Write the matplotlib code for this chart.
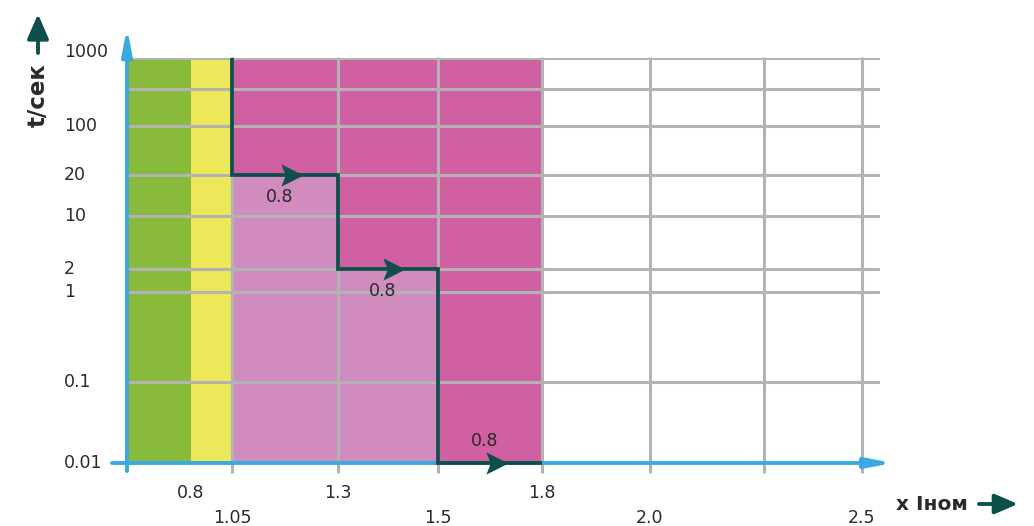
import numpy as np
import matplotlib
matplotlib.use("Agg")
import matplotlib.pyplot as plt
from matplotlib import transforms
from matplotlib.path import Path
from matplotlib.patches import FancyArrowPatch

plt.rcParams['font.family'] = ['DejaVu Sans']

# ---- data ----
x_ticks = [0.8, 1.05, 1.3, 1.5, 1.8, 2.0, 2.5]
x_tick_labels = ['0.8', '1.05', '1.3', '1.5', '1.8', '2.0', '2.5']
x_grid = [1.05, 1.3, 1.5, 1.8, 2.0, 2.2, 2.5]
y_grid = [0.01, 0.1, 1, 2, 10, 20, 100, 350, 1000]
y_tick_labels = ['0.01', '0.1', '1', '2', '10', '20', '100', '', '1000']
zone_green = (0.6, 0.8)
zone_yellow = (0.8, 1.05)
zone_magenta = (1.05, 1.8)
step_x = [1.05, 1.3, 1.5, 1.8]       # step boundaries
step_t = [20, 2, 0.01]                # time level for each step
step_label = ['0.8', '0.8', '0.8']
t_top = 1000

# ---- colours ----
GREEN = '#88bb3c'
YELLOW = '#ece85a'
PINK = '#d08cbe'
MAGENTA = '#d060a2'
GRID = '#b3b3b3'
BLUE = '#3aa9e0'
TEAL = '#0c4f4b'
TXT = '#2a2a2a'

# ---- non-uniform scales (as drawn in the original graphic) ----
XV = np.array([0.6, 0.8, 1.05, 1.3, 1.5, 1.8, 2.0, 2.2, 2.5, 2.6])
XP = np.array([127, 191, 232, 338, 438, 542, 650, 764, 862, 880], float)
YL = np.log10([0.01, 0.1, 1, 2, 10, 20, 100, 350, 1000])
YP = -np.array([463, 382, 292, 269, 216, 175, 126, 89, 58], float)


def fx(x):
    return np.interp(x, XV, XP)


def fxi(p):
    return np.interp(p, XP, XV)


def fy(y):
    return np.interp(np.log10(np.clip(y, 1e-12, None)), YL, YP)


def fyi(p):
    return 10 ** np.interp(p, YP, YL)


W, H = 1034, 526
fig = plt.figure(figsize=(W / 100, H / 100), dpi=100)
ax = fig.add_axes([127 / W, 63 / H, 753 / W, 405 / H])
ax.set_xscale('function', functions=(fx, fxi))
ax.set_yscale('function', functions=(fy, fyi))
ax.set_xlim(0.6, 2.6)
ax.set_ylim(0.01, 1000)
for s in ax.spines.values():
    s.set_visible(False)
ax.set_xticks([])
ax.set_yticks([])
ax.minorticks_off()

# zones
ax.axvspan(*zone_green, color=GREEN, lw=0, zorder=0)
ax.axvspan(*zone_yellow, color=YELLOW, lw=0, zorder=0)
ax.axvspan(*zone_magenta, color=MAGENTA, lw=0, zorder=0)
ax.fill_between(step_x[:3], step_t[:2] + [step_t[1]], 0.01,
                step='post', color=PINK, lw=0, zorder=0.5)

# grid
for yv in y_grid[1:]:
    ax.axhline(yv, color=GRID, lw=2.2, zorder=1)
xt = ax.get_xaxis_transform()
for xv in x_grid:
    ax.plot([xv, xv], [-0.024, 1.003], color=GRID, lw=2.2, transform=xt,
            clip_on=False, zorder=1, solid_capstyle='butt')

# blue axes with arrows
axt = ax.transAxes
bstyle = '-|>,head_length=1.55,head_width=0.3'
ax.annotate('', xy=(1.017, 0), xytext=(-0.02, 0), xycoords=axt, textcoords=axt,
            arrowprops=dict(arrowstyle=bstyle, color=BLUE, lw=2.8,
                            shrinkA=0, shrinkB=0),
            annotation_clip=False, zorder=2)
ax.annotate('', xy=(0, 1.075), xytext=(0, -0.02), xycoords=axt, textcoords=axt,
            arrowprops=dict(arrowstyle=bstyle, color=BLUE, lw=2.8,
                            shrinkA=0, shrinkB=0),
            annotation_clip=False, zorder=2)

# staircase
sx, sy = [step_x[0]], [t_top]
for i, t in enumerate(step_t):
    sx += [step_x[i], step_x[i + 1]]
    sy += [t, t]
ax.plot(sx, sy, color=TEAL, lw=2.7, zorder=3, solid_joinstyle='miter',
        solid_capstyle='butt', clip_on=False)

# notched arrowhead marker
head = Path([(-1, 1), (1, 0), (-1, -1), (-0.6, 0), (-1, 1)],
            [Path.MOVETO, Path.LINETO, Path.LINETO, Path.LINETO, Path.CLOSEPOLY])

for i, t in enumerate(step_t):
    a, b = fx(step_x[i]), fx(step_x[i + 1])
    xc = fxi(a + 0.565 * (b - a))
    ax.plot([xc], [t], marker=head, ms=16, color=TEAL, mew=0, zorder=4,
            clip_on=False)
    xl = fxi(a + 0.45 * (b - a))
    dy = -16 if i < 2 else 16
    ax.annotate(step_label[i], xy=(xl, t), xytext=(0, dy), textcoords='offset points',
                ha='center', va='center', fontsize=12.5, color=TXT, zorder=5)

# y tick labels
for yv, lab in zip(y_grid, y_tick_labels):
    if lab:
        dy = 4 if yv == 1000 else 0
        tr = transforms.blended_transform_factory(fig.transFigure, ax.transData) + \
            transforms.ScaledTranslation(0, dy / 72, fig.dpi_scale_trans)
        ax.text(64 / W, yv, lab, transform=tr, ha='left', va='center',
                fontsize=12.5, color=TXT)

# x tick labels in two rows
xtr = transforms.blended_transform_factory(ax.transData, fig.transFigure)
row1 = ['0.8', '1.3', '1.8']
for xv, lab in zip(x_ticks, x_tick_labels):
    yy = (H - 493) / H if lab in row1 else (H - 518) / H
    ax.text(xv, yy, lab, transform=xtr, ha='center', va='center',
            fontsize=12.5, color=TXT)

# axis titles with arrows
fig.text(38 / W, 1 - 95 / H, 't/сек', rotation=90, ha='center', va='center',
         fontsize=16.5, fontweight='bold', color=TXT)
fig.add_artist(FancyArrowPatch(
    (38 / W, 1 - 53 / H), (38 / W, 1 - 14 / H), transform=fig.transFigure,
    arrowstyle='-|>,head_length=15,head_width=6.5', color=TEAL, lw=2.8,
    mutation_scale=1, shrinkA=0, shrinkB=0))
fig.text(932 / W, 1 - 504 / H, 'x Iном', ha='center', va='center',
         fontsize=14.5, fontweight='bold', color=TXT)
fig.add_artist(FancyArrowPatch(
    (979 / W, 1 - 504 / H), (1018 / W, 1 - 504 / H), transform=fig.transFigure,
    arrowstyle='-|>,head_length=14,head_width=6', color=TEAL, lw=2.8,
    mutation_scale=1, shrinkA=0, shrinkB=0))

fig.savefig('out.png', dpi=100)
